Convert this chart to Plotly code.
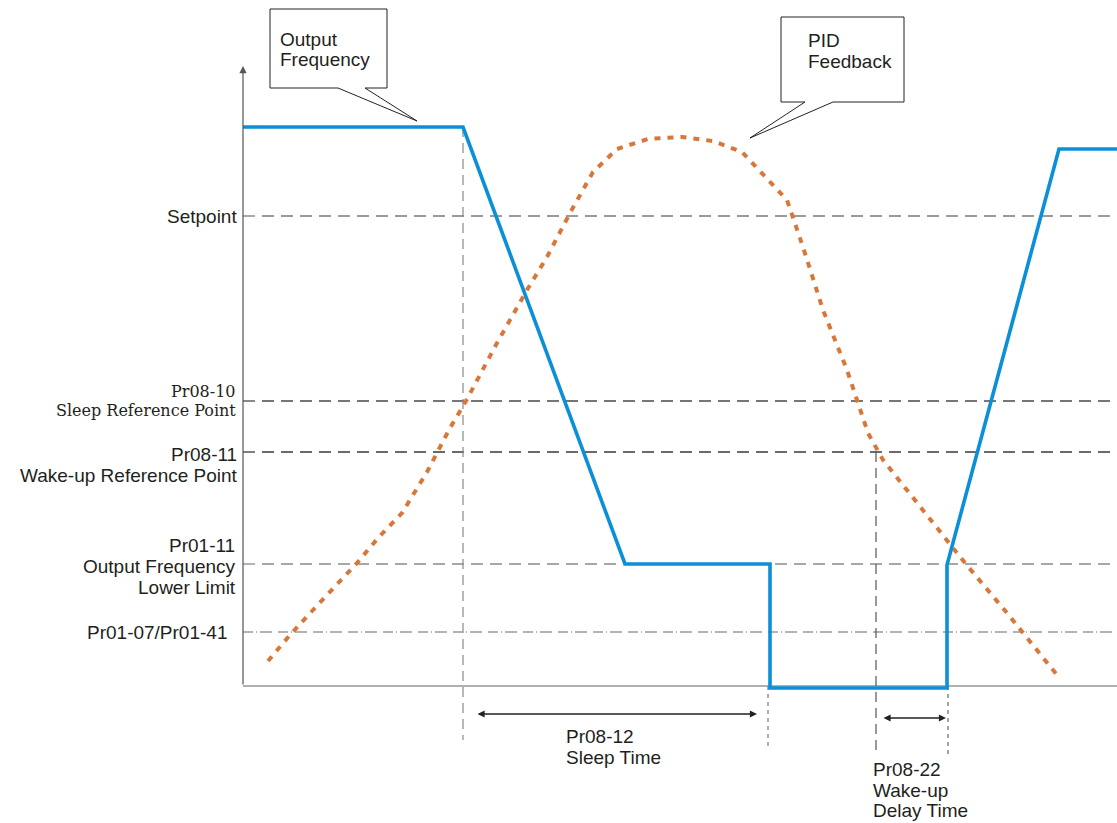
import plotly.graph_objects as go

# ---- signal levels (arbitrary units, 0 = time axis) ----
level_names = ["Setpoint", "Pr08-10", "Pr08-11", "Pr01-11", "Pr01-07/Pr01-41"]
level_values = [470, 285, 234, 122, 54]
level_colors = ["#7a7a7a", "#4a4a4a", "#3a3a3a", "#8a8a8a", "#9a9a9a"]

# ---- key instants (arbitrary time units, 0 = vertical axis) ----
t_sleep_start = 220
t_sleep_end = 525
t_wake_start = 633
t_wake_end = 705
t_end = 874

# ---- output frequency (blue) ----
freq_t = [0, 220, 382, 527, 527, 704, 704, 816, 874]
freq_v = [559, 559, 122, 122, -2, -2, 121, 537, 537]

# ---- PID feedback (orange, dashed) ----
fb_t = [25, 47, 70, 92, 114, 135, 159, 184, 207, 223, 254, 284, 304, 327,
        350, 374, 405, 439, 470, 499, 522, 544, 560, 580, 604, 625, 640,
        670, 700, 722, 764, 814]
fb_v = [25, 51, 76, 99, 123, 148, 173, 214, 258, 285, 343, 396, 429, 473,
        514, 537, 547, 549, 545, 534, 509, 486, 439, 376, 316, 253, 226,
        188, 151, 123, 73, 11]

BLUE = "#0b8fd6"
ORANGE = "#d8773a"
TEXT = "#231f20"
SANS = "Liberation Sans, Arial, sans-serif"
SERIF = "DejaVu Serif, Georgia, serif"
FS = 19

fig = go.Figure()

# time axis
fig.add_trace(go.Scatter(x=[0, t_end], y=[0, 0], mode="lines",
                         line=dict(color="#b0b0b0", width=2), hoverinfo="skip"))

# horizontal reference levels
for name, val, col in zip(level_names, level_values, level_colors):
    dash = "10px,3px,1px,3px,12px,6px" if name.startswith("Pr01-07") else "12px,7px"
    fig.add_trace(go.Scatter(x=[0, t_end], y=[val, val], mode="lines",
                             line=dict(color=col, width=1.3, dash=dash),
                             hoverinfo="skip"))

# vertical markers for the sleep / wake-up intervals
vmarks = [
    (t_sleep_start, freq_v[0], -54, "#8a8a8a", "10px,6px"),
    (t_sleep_end, 0, -62, "#777777", "4px,4px"),
    (t_wake_start, level_values[2], -64, "#555555", "10px,6px"),
    (t_wake_end, 0, -70, "#666666", "4px,4px"),
]
for t, y0, y1, col, dash in vmarks:
    fig.add_trace(go.Scatter(x=[t, t], y=[y0, y1], mode="lines",
                             line=dict(color=col, width=1.2, dash=dash),
                             hoverinfo="skip"))

# PID feedback
fig.add_trace(go.Scatter(x=fb_t, y=fb_v, mode="lines",
                         line=dict(color=ORANGE, width=4, dash="6px,7px"),
                         hoverinfo="skip"))

# output frequency
fig.add_trace(go.Scatter(x=freq_t, y=freq_v, mode="lines",
                         line=dict(color=BLUE, width=3.6), hoverinfo="skip"))

annotations = []

# vertical axis with arrow head
annotations.append(dict(x=0, y=620, ax=0, ay=0, xref="x", yref="y",
                        axref="x", ayref="y", text="", showarrow=True,
                        arrowhead=2, arrowsize=1.2, arrowwidth=1.2,
                        arrowcolor="#555555"))

# interval arrows
for x0, x1, yy in [(t_sleep_start + 13, t_sleep_end - 11, -28),
                   (t_wake_start + 6, t_wake_end - 2, -32)]:
    annotations.append(dict(x=x1, y=yy, ax=x0, ay=yy, xref="x", yref="y",
                            axref="x", ayref="y", text="", showarrow=True,
                            arrowhead=2, startarrowhead=2, arrowside="end+start",
                            arrowsize=1.1, startarrowsize=1.1, arrowwidth=1.3,
                            arrowcolor="#222222"))

def label(text, x, y, xanchor="right", font=SANS, size=FS):
    annotations.append(dict(x=x, y=y, xref="x", yref="y", text=text,
                            showarrow=False, xanchor=xanchor, yanchor="middle",
                            font=dict(family=font, size=size, color=TEXT)))

# level labels on the left
label("Setpoint", -4, level_values[0])
label("Pr08-10", -5, 295, font=SERIF, size=16)
label("Sleep Reference Point", -5, 276, font=SERIF, size=16)
label("Pr08-11", -4, 232)
label("Wake-up Reference Point", -3, 211)
label("Pr01-11", -6, 141)
label("Output Frequency", -5, 120)
label("Lower Limit", -5, 99)
label("Pr01-07/Pr01-41", -14, level_values[4])

# interval labels
label("Pr08-12", 321, -50, xanchor="left")
label("Sleep Time", 321, -71, xanchor="left")
label("Pr08-22", 628, -83, xanchor="left")
label("Wake-up", 628, -104, xanchor="left")
label("Delay Time", 628, -124, xanchor="left")

# callout texts
label("Output", 35, 647, xanchor="left")
label("Frequency", 35, 627, xanchor="left")
label("PID", 563, 646, xanchor="left")
label("Feedback", 563, 625, xanchor="left")

# callout boxes with pointers
shapes = [
    dict(type="path", xref="x", yref="y",
         path="M 27,677 L 144,677 L 144,598 L 122,598 L 174,565 L 95,598 L 27,598 Z",
         fillcolor="white", line=dict(color="#222222", width=1)),
    dict(type="path", xref="x", yref="y",
         path="M 538,669 L 661,669 L 661,584 L 590,584 L 507,548 L 562,584 L 538,584 Z",
         fillcolor="white", line=dict(color="#222222", width=1)),
]

fig.update_layout(
    width=1117, height=823,
    margin=dict(l=0, r=0, t=0, b=0),
    plot_bgcolor="white", paper_bgcolor="white",
    showlegend=False,
    xaxis=dict(range=[-243, 874], visible=False, fixedrange=True),
    yaxis=dict(range=[-137, 686], visible=False, fixedrange=True),
    annotations=annotations,
    shapes=shapes,
)

fig.write_html("out.html")
